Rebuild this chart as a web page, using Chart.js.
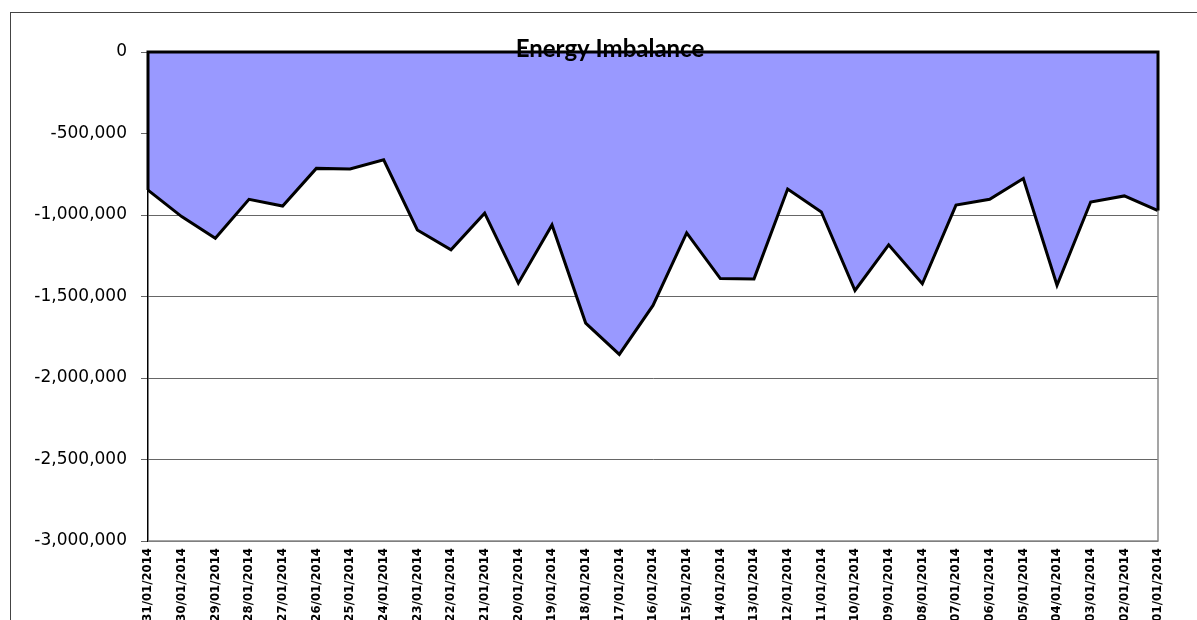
<!DOCTYPE html>
<html>
<head>
<meta charset="utf-8">
<script src="https://cdn.jsdelivr.net/npm/chart.js@4"></script>
<style>
  html, body { margin: 0; padding: 0; background: #fff; overflow: hidden; }
  #wrap { width: 1197px; height: 620px; }
</style>
</head>
<body>
<div id="wrap"><canvas id="myChart"></canvas></div>
<script>
const dates = ['31/01/2014', '30/01/2014', '29/01/2014', '28/01/2014', '27/01/2014', '26/01/2014',
  '25/01/2014', '24/01/2014', '23/01/2014', '22/01/2014', '21/01/2014', '20/01/2014',
  '19/01/2014', '18/01/2014', '17/01/2014', '16/01/2014', '15/01/2014', '14/01/2014',
  '13/01/2014', '12/01/2014', '11/01/2014', '10/01/2014', '09/01/2014', '08/01/2014',
  '07/01/2014', '06/01/2014', '05/01/2014', '04/01/2014', '03/01/2014', '02/01/2014',
  '01/01/2014'];
const imbalance = [-847000, -1010000, -1143000, -904000, -945000, -714000,
  -718000, -661000, -1092000, -1214000, -989000, -1418000,
  -1061000, -1663000, -1855000, -1555000, -1110000, -1390000,
  -1392000, -841000, -981000, -1463000, -1183000, -1422000,
  -939000, -904000, -776000, -1431000, -920000, -883000,
  -973000];
const yMin = -3000000;
const yMax = 0;
const yStep = 500000;
const chartTitle = 'Energy Imbalance';

// frame, area outline and title, all placed from the scales
const extras = {
  id: 'extras',
  beforeDraw(chart) {
    const c = chart.ctx;
    c.save();
    c.strokeStyle = '#444';
    c.lineWidth = 1;
    c.strokeRect(10.5, 12.5, 1200, 1000);
    c.restore();
  },
  afterDatasetsDraw(chart) {
    const c = chart.ctx;
    const x = chart.scales.x, y = chart.scales.y;
    const a = chart.chartArea;
    const n = imbalance.length - 1;
    c.save();
    // right and bottom plot border
    c.strokeStyle = '#888';
    c.lineWidth = 1.5;
    c.beginPath();
    c.moveTo(a.right, a.top);
    c.lineTo(a.right, a.bottom);
    c.lineTo(a.left, a.bottom);
    c.stroke();
    // close the area outline along zero
    c.strokeStyle = '#000';
    c.lineWidth = 3;
    c.beginPath();
    c.moveTo(x.getPixelForValue(0), y.getPixelForValue(imbalance[0]));
    c.lineTo(x.getPixelForValue(0), y.getPixelForValue(0));
    c.lineTo(x.getPixelForValue(n), y.getPixelForValue(0));
    c.lineTo(x.getPixelForValue(n), y.getPixelForValue(imbalance[n]));
    c.stroke();
    // title
    c.fillStyle = '#000';
    c.font = 'bold 24px Lato';
    c.textAlign = 'center';
    c.textBaseline = 'alphabetic';
    c.fillText(chartTitle, 610, 57);
    c.restore();
  }
};

const ctx = document.getElementById('myChart');

const myChart = new Chart(ctx, {
  type: 'line',
  data: {
    labels: dates,
    datasets: [{
      label: chartTitle,
      data: imbalance,
      fill: 'origin',
      backgroundColor: '#9999FF',
      borderColor: '#000',
      borderWidth: 3,
      pointRadius: 0,
      tension: 0
    }]
  },
  options: {
    responsive: true,
    maintainAspectRatio: false,
    animation: false,
    layout: { padding: { top: 52, right: 39, left: 0, bottom: 0 } },
    plugins: {
      legend: { display: false },
      tooltip: { enabled: false }
    },
    scales: {
      x: {
        offset: false,
        afterFit(scale) { scale.height = 79; },
        grid: { display: false, drawTicks: false },
        border: { display: false },
        ticks: {
          autoSkip: false,
          maxRotation: 90,
          minRotation: 90,
          padding: 7,
          color: '#000',
          font: { family: "'DejaVu Sans Condensed', 'DejaVu Sans'", size: 13, weight: 'bold' }
        }
      },
      y: {
        min: yMin,
        max: yMax,
        afterFit(scale) { scale.width = 148; },
        grid: { color: '#666', lineWidth: 1, tickLength: 7 },
        border: { color: '#000', width: 1.5 },
        ticks: {
          stepSize: yStep,
          padding: 14,
          color: '#000',
          font: { family: 'DejaVu Sans', size: 17 },
          callback: v => v.toLocaleString('en-US')
        }
      }
    }
  },
  plugins: [extras]
});
</script>
</body>
</html>
